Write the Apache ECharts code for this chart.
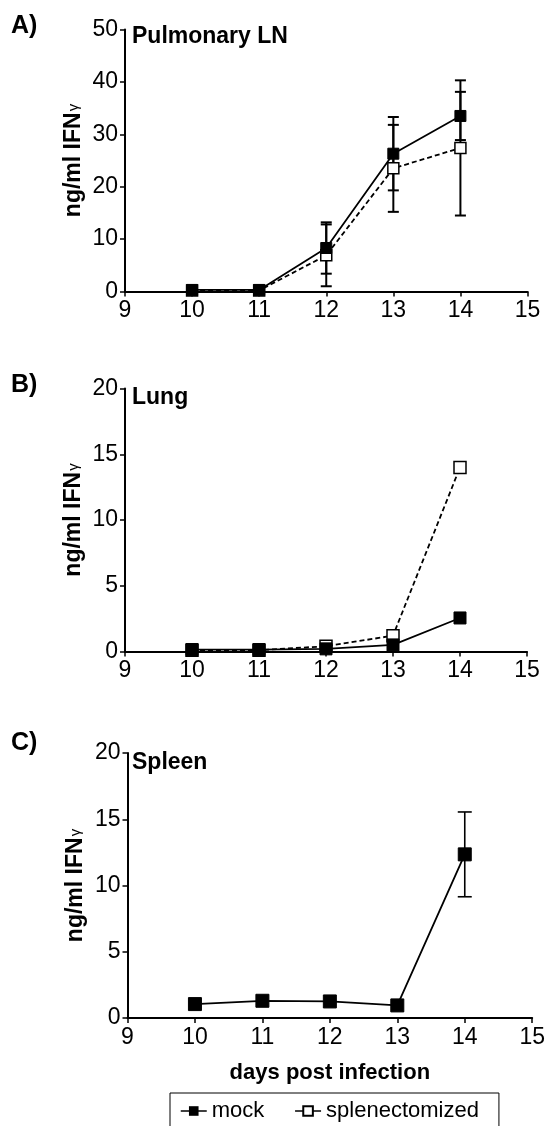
<!DOCTYPE html>
<html>
<head>
<meta charset="utf-8">
<script src="https://cdn.jsdelivr.net/npm/echarts@6/dist/echarts.min.js"></script>
<style>html,body{margin:0;padding:0;background:#fff}#c{width:548px;height:1126px}</style>
</head>
<body>
<div id="c"></div>
<script>
// ---- data ----
var days = [10, 11, 12, 13, 14];
var xTicks = [9, 10, 11, 12, 13, 14, 15];
// A) Pulmonary LN
var lnMock = [0.3, 0.3, 8.3, 26.3, 33.5];
var lnMockErr = [0, 0, 4.9, 7.0, 4.6];
var lnSplen = [0.2, 0.2, 6.9, 23.5, 27.4];
var lnSplenErr = [0, 0, 5.9, 8.3, 12.9];
// B) Lung
var lungMock = [0.15, 0.15, 0.2, 0.5, 2.55];
var lungSplen = [0.1, 0.1, 0.4, 1.2, 14.0];
// C) Spleen
var spleenMock = [1.05, 1.3, 1.25, 0.95, 12.35];
var spleenMockErr = [0, 0, 0, 0, 3.2];
var panelLabels = ['A)', 'B)', 'C)'];
var panelTitles = ['Pulmonary LN', 'Lung', 'Spleen'];
var yMax = [50, 20, 20];
var yStep = [10, 5, 5];

var FONT = '"Liberation Sans", Arial, sans-serif';

function pts(vals) { return days.map(function (d, i) { return [d, vals[i]]; }); }
function errs(vals, e) {
  var out = [];
  days.forEach(function (d, i) { if (e[i] > 0) out.push([d, vals[i] - e[i], vals[i] + e[i]]); });
  return out;
}
function errSeries(gi, data, cap, lw) {
  return {
    type: 'custom', xAxisIndex: gi, yAxisIndex: gi, z: 1, silent: true,
    data: data,
    renderItem: function (params, api) {
      var lo = api.coord([api.value(0), api.value(1)]);
      var hi = api.coord([api.value(0), api.value(2)]);
      var st = { stroke: '#000', lineWidth: lw };
      return { type: 'group', children: [
        { type: 'line', shape: { x1: hi[0], y1: hi[1], x2: lo[0], y2: lo[1] }, style: st },
        { type: 'line', shape: { x1: hi[0] - cap, y1: hi[1], x2: hi[0] + cap, y2: hi[1] }, style: st },
        { type: 'line', shape: { x1: lo[0] - cap, y1: lo[1], x2: lo[0] + cap, y2: lo[1] }, style: st }
      ] };
    }
  };
}
function mockSeries(gi, vals, size) {
  return { name: 'mock', type: 'line', xAxisIndex: gi, yAxisIndex: gi, z: 4, data: pts(vals),
    symbol: 'rect', symbolSize: size, showSymbol: true,
    lineStyle: { color: '#000', width: 1.8 }, itemStyle: { color: '#000', borderColor: '#000' } };
}
function splenSeries(gi, vals, size) {
  return { name: 'splenectomized', type: 'line', xAxisIndex: gi, yAxisIndex: gi, z: 3, data: pts(vals),
    symbol: 'rect', symbolSize: size, showSymbol: true,
    lineStyle: { color: '#000', width: 1.8, type: [5, 3] },
    itemStyle: { color: '#fff', borderColor: '#000', borderWidth: 1.5 } };
}

var grids = [
  { left: 125, right: 20.5, top: 29.5, height: 262 },
  { left: 125, right: 21, top: 388.5, height: 263 },
  { left: 127.5, right: 13.5, top: 753, height: 265 }
];

var xAxes = grids.map(function (g, i) {
  var ax = {
    type: 'value', gridIndex: i, min: xTicks[0], max: xTicks[xTicks.length - 1], interval: 1,
    axisLine: { lineStyle: { color: '#000', width: 2 } },
    axisTick: { length: 5, lineStyle: { color: '#000', width: 1.5 } },
    axisLabel: { color: '#000', fontSize: 23, fontFamily: FONT, margin: 8 },
    splitLine: { show: false }
  };
  if (i === 2) {
    ax.name = 'days post infection';
    ax.nameLocation = 'middle';
    ax.nameGap = 44;
    ax.nameMoveOverlap = false;
    ax.nameTextStyle = { color: '#000', fontSize: 22, fontWeight: 'bold', fontFamily: FONT };
  }
  return ax;
});

var yAxes = grids.map(function (g, i) {
  return {
    type: 'value', gridIndex: i, min: 0, max: yMax[i], interval: yStep[i],
    name: '{a|ng/ml IFN}{b|γ}', nameLocation: 'middle', nameGap: 40, nameMoveOverlap: false,
    nameTextStyle: { color: '#000', rich: {
      a: { fontSize: 23, fontWeight: 'bold', fontFamily: FONT, color: '#000' },
      b: { fontSize: 15, fontFamily: FONT, color: '#000', padding: [0, 0, 0, 1] }
    } },
    axisLine: { show: true, lineStyle: { color: '#000', width: 2 } },
    axisTick: { show: true, length: 5, lineStyle: { color: '#000', width: 1.5 } },
    axisLabel: { color: '#000', fontSize: 23, fontFamily: FONT, margin: 7 },
    splitLine: { show: false }
  };
});

var titleTops = [[14, 25], [373, 386], [731, 751]];
var titles = [];
panelLabels.forEach(function (t, i) {
  titles.push({ text: t, left: 11, top: titleTops[i][0], padding: 0,
    textStyle: { fontSize: 25, fontWeight: 'bold', fontFamily: FONT, color: '#000' } });
  titles.push({ text: panelTitles[i], left: 132, top: titleTops[i][1], padding: 0,
    textStyle: { fontSize: 23, fontWeight: 'bold', fontFamily: FONT, color: '#000' } });
});

var series = [
  errSeries(0, errs(lnSplen, lnSplenErr), 5.5, 2),
  errSeries(0, errs(lnMock, lnMockErr), 5.5, 2),
  splenSeries(0, lnSplen, 11),
  mockSeries(0, lnMock, 11),
  splenSeries(1, lungSplen, 12),
  mockSeries(1, lungMock, 12),
  errSeries(2, errs(spleenMock, spleenMockErr), 7, 1.6),
  mockSeries(2, spleenMock, 13)
];

var chart = echarts.init(document.getElementById('c'), null, { renderer: 'canvas' });
chart.setOption({
  animation: false,
  backgroundColor: '#fff',
  title: titles,
  grid: grids,
  xAxis: xAxes,
  yAxis: yAxes,
  legend: {
    data: ['mock', 'splenectomized'], left: 170, top: 1093, orient: 'horizontal',
    borderColor: '#000', borderWidth: 1, padding: [7, 20, 8, 10],
    itemWidth: 26, itemHeight: 12, itemGap: 30,
    lineStyle: { type: 'solid', width: 1.5 },
    textStyle: { color: '#000', fontSize: 22, fontFamily: FONT, padding: [0, 0, 0, 0] }
  },
  series: series
});
</script>
</body>
</html>
